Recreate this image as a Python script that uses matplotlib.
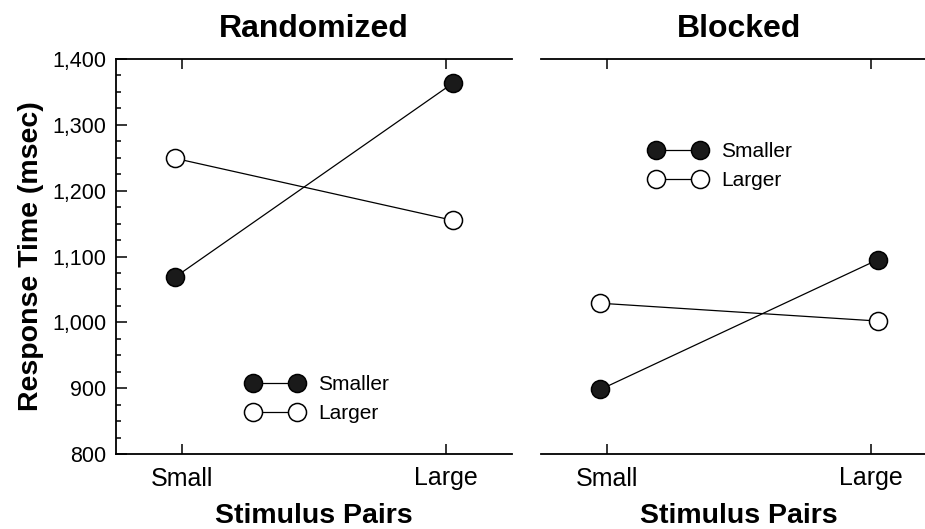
import matplotlib
matplotlib.use('Agg')
import matplotlib.pyplot as plt
from matplotlib.ticker import MultipleLocator, FuncFormatter

plt.rcParams['font.family'] = ['Liberation Sans', 'DejaVu Sans']

# data (response time in msec)
conditions = ['Small', 'Large']
panels = ['Randomized', 'Blocked']
smaller_rt = {'Randomized': [1069, 1363], 'Blocked': [898, 1095]}
larger_rt = {'Randomized': [1249, 1155], 'Blocked': [1029, 1002]}

W, H = 925, 529
fig = plt.figure(figsize=(W / 100, H / 100), dpi=100)

# axes boxes in pixels: left, top, width, height
boxes = [(116, 59, 396, 395), (541, 59, 396, 395)]
legend_at = [(247, 375), (650, 142)]
offset = 0.025  # markers sit a little outside the category ticks

for i, name in enumerate(panels):
    l, t, w, h = boxes[i]
    ax = fig.add_axes([l / W, 1 - (t + h) / H, w / W, h / H])
    xs = [0 - offset, 1 + offset]

    ax.plot(xs, smaller_rt[name], color='black', lw=0.9, marker='o', ms=13,
            mfc='#1a1a1a', mec='black', mew=1.1, label='Smaller', zorder=3)
    ax.plot(xs, larger_rt[name], color='black', lw=0.9, marker='o', ms=13,
            mfc='white', mec='black', mew=1.1, label='Larger', zorder=3)

    ax.set_xlim(-0.25, 1.25)
    ax.set_ylim(800, 1400)
    ax.set_xticks([0, 1])
    ax.set_xticklabels(conditions, fontsize=18)
    ax.tick_params(axis='x', direction='in', top=True, length=7, width=1.1, pad=9)

    ax.spines['right'].set_visible(False)
    for s in ['top', 'bottom', 'left']:
        ax.spines[s].set_linewidth(1.3)

    ax.set_title(name, fontsize=23, fontweight='bold', pad=16)
    ax.set_xlabel('Stimulus Pairs', fontsize=20.5, fontweight='bold', labelpad=9)

    if i == 0:
        ax.yaxis.set_major_locator(MultipleLocator(100))
        ax.yaxis.set_minor_locator(MultipleLocator(25))
        ax.yaxis.set_major_formatter(FuncFormatter(lambda v, p: f'{int(v):,}'))
        ax.tick_params(axis='y', which='major', direction='in', length=8, width=1.1,
                       labelsize=15.5, pad=7)
        ax.tick_params(axis='y', which='minor', direction='in', length=3.8, width=1.1)
        ax.set_ylabel('Response Time (msec)', fontsize=20.5, fontweight='bold', labelpad=6)
    else:
        ax.spines['left'].set_visible(False)
        ax.set_yticks([])

    lx, ly = legend_at[i]
    ax.legend(loc='upper left', bbox_to_anchor=(lx / W, 1 - ly / H),
              bbox_transform=fig.transFigure, frameon=False, numpoints=2,
              fontsize=15, handlelength=2.7, handletextpad=0.7, labelspacing=0.5,
              borderpad=0, borderaxespad=0)

fig.savefig('out.png', dpi=100)
